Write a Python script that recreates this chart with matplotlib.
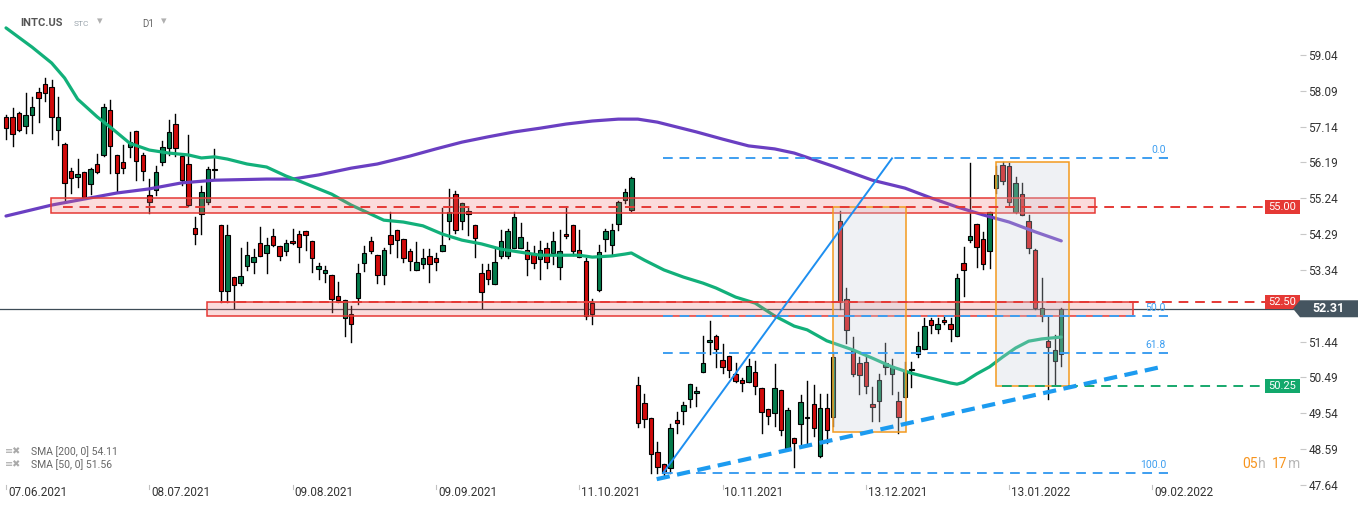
import numpy as np
import matplotlib.pyplot as plt
from matplotlib.patches import Rectangle, Polygon

plt.rcParams['font.family'] = ['Roboto', 'DejaVu Sans']

# Velas diarias INTC.US (07.06.2021 - 26.01.2022)
open_ = [57.40, 57.40, 57.50, 57.15, 57.44, 58.05, 58.26, 58.18, 57.04, 56.67,
         55.96, 55.80, 55.93, 55.61, 56.14, 56.39, 57.57, 56.38, 56.19, 56.59,
         57.02, 56.40, 55.33, 55.46, 56.19, 56.58, 57.20, 56.35, 56.14, 54.44,
         54.82, 55.13, 56.03, 54.52, 52.77, 53.14, 53.00, 53.45, 53.54, 54.05,
         53.78, 54.23, 53.97, 53.83, 54.11, 54.28, 54.36, 54.11, 53.36, 53.25,
         53.20, 52.64, 52.06, 52.16, 52.59, 53.52, 54.11, 53.73, 53.20, 54.26,
         54.39, 54.15, 53.84, 53.33, 53.49, 53.70, 53.65, 53.83, 54.64, 55.35,
         54.63, 54.89, 54.52, 53.25, 53.33, 52.96, 53.70, 53.72, 53.91, 53.91,
         53.86, 53.78, 53.62, 53.91, 53.78, 53.41, 54.28, 54.52, 53.86, 53.59,
         52.45, 52.80, 54.17, 53.99, 54.55, 55.19, 54.92, 50.28, 49.82, 49.40,
         48.50, 48.18, 48.08, 49.35, 49.59, 49.91, 50.07, 50.62, 51.42, 51.60,
         50.94, 51.05, 50.57, 50.41, 50.36, 50.62, 50.20, 49.64, 49.54, 50.15,
         48.61, 48.87, 49.25, 49.45, 49.78, 48.40, 49.67, 49.43, 54.65, 52.58,
         51.20, 50.86, 50.89, 49.79, 49.85, 50.76, 50.57, 49.86, 49.96, 50.68,
         51.10, 51.23, 52.00, 51.76, 52.00, 51.90, 51.60, 53.53, 54.13, 54.55,
         54.15, 53.83, 55.50, 56.11, 56.09, 54.87, 55.35, 54.64, 53.88, 52.12,
         51.46, 50.92, 51.10]
high = [57.45, 57.63, 57.52, 58.03, 57.93, 58.17, 58.43, 58.38, 57.93, 56.71,
        56.04, 56.28, 55.95, 56.04, 56.41, 57.74, 57.85, 56.39, 56.65, 57.00,
        57.03, 56.45, 55.75, 56.10, 56.76, 57.32, 57.48, 56.36, 56.92, 54.75,
        55.56, 56.07, 56.55, 54.53, 54.53, 53.15, 53.92, 54.08, 53.89, 54.48,
        54.18, 54.42, 53.98, 54.13, 54.42, 54.37, 54.37, 54.12, 53.53, 53.44,
        53.21, 53.01, 52.54, 52.38, 53.51, 53.97, 54.22, 53.73, 53.91, 54.87,
        54.40, 54.16, 53.89, 54.08, 53.89, 53.89, 53.78, 54.97, 55.48, 55.43,
        55.11, 54.97, 54.53, 53.49, 53.49, 53.89, 54.40, 54.42, 54.87, 54.58,
        54.07, 53.97, 54.11, 54.05, 54.35, 54.40, 55.00, 54.53, 54.39, 53.65,
        52.56, 53.99, 54.42, 54.55, 55.16, 55.48, 55.80, 50.49, 50.04, 49.41,
        48.77, 48.19, 49.24, 49.56, 49.83, 50.31, 50.23, 51.59, 51.98, 51.61,
        51.37, 51.06, 50.86, 50.46, 50.99, 50.92, 50.21, 49.65, 50.84, 50.15,
        49.67, 48.88, 50.02, 50.39, 50.29, 50.04, 50.04, 51.17, 54.91, 52.85,
        51.55, 51.04, 51.02, 50.24, 50.57, 51.39, 50.98, 50.09, 50.90, 50.90,
        51.70, 52.06, 52.07, 52.06, 52.11, 52.06, 53.22, 53.94, 56.18, 54.56,
        54.35, 54.87, 56.09, 56.20, 56.17, 55.80, 55.64, 54.79, 53.89, 53.13,
        52.10, 51.61, 52.33]
low = [56.81, 56.63, 57.03, 56.97, 56.98, 57.27, 57.83, 56.81, 56.66, 55.15,
       55.39, 55.55, 55.25, 55.35, 55.92, 56.36, 55.92, 55.41, 55.92, 56.33,
       55.73, 55.73, 54.86, 55.33, 56.13, 56.40, 56.37, 55.59, 55.04, 54.02,
       54.28, 55.08, 55.77, 52.50, 52.50, 52.33, 52.94, 53.33, 53.27, 53.70,
       53.27, 53.97, 53.60, 53.74, 54.04, 53.54, 53.86, 53.28, 53.09, 53.03,
       52.23, 52.50, 51.60, 51.44, 52.43, 53.31, 53.78, 52.98, 52.97, 53.78,
       53.69, 53.56, 53.35, 53.33, 53.40, 53.03, 53.33, 53.83, 54.17, 54.31,
       54.42, 54.27, 53.69, 52.34, 52.96, 52.96, 53.65, 53.65, 53.91, 53.91,
       53.20, 53.38, 53.09, 53.38, 53.49, 53.09, 54.20, 53.73, 53.67, 52.04,
       51.90, 52.77, 53.83, 53.73, 54.39, 55.11, 54.89, 49.17, 49.18, 47.95,
       47.95, 47.90, 47.95, 49.01, 49.24, 49.71, 49.74, 50.62, 51.10, 50.77,
       50.60, 50.49, 50.37, 50.12, 50.36, 50.04, 49.01, 49.24, 49.20, 48.95,
       48.58, 48.12, 48.70, 48.70, 48.93, 48.37, 48.76, 49.20, 52.30, 51.39,
       50.53, 50.05, 50.07, 49.32, 49.32, 50.58, 50.04, 49.01, 49.96, 50.23,
       51.02, 51.23, 51.67, 51.66, 51.90, 51.46, 51.60, 52.65, 54.07, 53.42,
       53.36, 53.38, 55.37, 55.62, 55.05, 54.84, 54.79, 53.78, 52.30, 51.99,
       49.91, 50.28, 50.78]
close = [57.10, 56.94, 57.05, 57.44, 57.65, 57.89, 58.02, 57.39, 57.39, 55.64,
         55.77, 55.88, 55.28, 56.01, 55.93, 57.65, 56.63, 55.90, 56.05, 56.74,
         56.22, 55.96, 55.15, 55.93, 56.61, 56.99, 56.57, 55.72, 55.07, 54.28,
         55.42, 56.03, 55.98, 52.77, 54.27, 52.93, 53.17, 53.73, 53.69, 53.71,
         54.00, 54.00, 53.72, 54.05, 54.05, 53.94, 54.26, 53.65, 53.44, 53.34,
         52.56, 52.54, 52.53, 51.90, 53.25, 53.78, 53.83, 53.20, 53.87, 54.02,
         54.13, 53.65, 53.59, 53.54, 53.65, 53.51, 53.54, 53.99, 54.88, 54.41,
         55.11, 54.82, 54.19, 52.76, 53.09, 53.54, 54.10, 54.36, 54.74, 54.21,
         53.62, 53.52, 53.86, 53.54, 54.10, 53.83, 54.23, 53.83, 53.67, 52.12,
         52.16, 53.81, 54.36, 54.39, 55.13, 55.40, 55.79, 49.27, 49.38, 48.45,
         48.10, 47.95, 49.14, 49.27, 49.75, 50.31, 50.13, 50.86, 51.47, 51.23,
         50.76, 50.68, 50.39, 50.33, 50.78, 50.25, 49.56, 49.46, 50.20, 49.09,
         49.62, 48.74, 49.84, 49.40, 49.14, 49.69, 49.09, 51.02, 52.50, 51.74,
         50.58, 50.54, 50.25, 49.70, 50.41, 50.86, 50.78, 49.45, 50.65, 50.72,
         51.31, 51.84, 51.87, 51.90, 51.95, 51.76, 53.12, 53.33, 54.23, 53.94,
         53.49, 54.87, 55.85, 55.69, 55.13, 55.64, 54.81, 53.91, 52.32, 52.34,
         51.30, 51.21, 52.31]

sma50_idx = [0, 4, 7, 9, 11, 14, 16, 19, 22, 25, 28, 30, 32, 34, 37, 40, 43, 45,
             48, 50, 53, 55, 58, 61, 64, 67, 70, 73, 76, 79, 82, 85, 88, 90, 93,
             95, 96, 98, 101, 104, 107, 109, 112, 115, 118, 121, 123, 126, 130,
             133, 136, 139, 142, 145, 146, 147, 149, 151, 153, 155, 157, 159, 162]
sma50_val = [59.76, 59.25, 58.83, 58.43, 57.87, 57.40, 57.13, 56.70, 56.52, 56.44,
             56.39, 56.31, 56.34, 56.28, 56.15, 56.07, 55.83, 55.70, 55.49, 55.35,
             55.06, 54.90, 54.66, 54.61, 54.51, 54.29, 54.13, 54.03, 53.89, 53.81,
             53.73, 53.73, 53.73, 53.68, 53.71, 53.76, 53.79, 53.60, 53.34, 53.15,
             52.99, 52.86, 52.62, 52.46, 52.12, 51.85, 51.75, 51.46, 51.22, 51.00,
             50.77, 50.60, 50.47, 50.34, 50.31, 50.36, 50.58, 50.77, 51.03, 51.27,
             51.45, 51.51, 51.56]
sma200_idx = [0, 7, 12, 17, 22, 27, 32, 40, 44, 48, 53, 57, 62, 66, 70, 74, 78,
              82, 86, 90, 94, 97, 100, 103, 106, 110, 114, 118, 121, 127, 133,
              138, 142, 146, 150, 154, 158, 162]
sma200_val = [54.77, 55.06, 55.22, 55.38, 55.49, 55.65, 55.72, 55.75, 55.75, 55.86,
              56.04, 56.15, 56.36, 56.55, 56.73, 56.87, 57.00, 57.10, 57.21, 57.29,
              57.34, 57.34, 57.26, 57.13, 57.00, 56.81, 56.63, 56.55, 56.44, 56.09,
              55.72, 55.51, 55.25, 55.01, 54.80, 54.61, 54.35, 54.11]

date_idx = [0, 22, 44, 66, 88, 110, 132, 154, 176]
date_labels = ['07.06.2021', '08.07.2021', '09.08.2021', '09.09.2021', '11.10.2021',
               '10.11.2021', '13.12.2021', '13.01.2022', '09.02.2022']
price_ticks = [59.04, 58.09, 57.14, 56.19, 55.24, 54.29, 53.34, 51.44, 50.49,
               49.54, 48.59, 47.64]

# Niveles y zonas dibujadas
fib_high, fib_low = 56.30, 47.95
fib_levels = [0.0, 50.0, 61.8, 100.0]
zone_55 = (54.85, 55.25)
zone_525 = (52.12, 52.49)
boxes = [(127.0, 138.2, 49.04, 55.01), (152.0, 163.2, 50.26, 56.20)]
last_price = 52.31

W, H = 1368, 509
STEP = 6.514


def px(x):
    # posicion horizontal en pixeles -> indice de vela
    return (x - 6) / STEP


fig = plt.figure(figsize=(W / 100, H / 100), dpi=100)
ax = fig.add_axes([0, 24 / H, 1300 / W, 485 / H])
ymin, ymax = 47.635, 60.50
ax.set_xlim(px(0), px(1300))
ax.set_ylim(ymin, ymax)
for s in ax.spines.values():
    s.set_visible(False)
ppx = (ymax - ymin) / 485  # precio por pixel

# linea del precio actual
ax.plot([px(0), px(1293)], [last_price, last_price], color='#3d4c57', lw=0.9, zorder=1)

# velas
for i in range(len(close)):
    o, h, l, c = open_[i], high[i], low[i], close[i]
    col = '#037a4b' if c >= o else '#d10a0a'
    ax.plot([i, i], [l, h], color='black', lw=1.0, zorder=2)
    ax.add_patch(Rectangle((i - 0.34, min(o, c)), 0.68, max(abs(c - o), 0.03),
                           fc=col, ec='black', lw=0.8, zorder=2.5))

# medias
ax.plot(sma200_idx, sma200_val, color='#6a3fc2', lw=2.3, zorder=3, solid_capstyle='round')
ax.plot(sma50_idx, sma50_val, color='#12b07a', lw=2.3, zorder=3, solid_capstyle='round')

# zonas rojas
ax.add_patch(Rectangle((px(51), zone_55[0]), px(1095) - px(51), zone_55[1] - zone_55[0],
                       fc=(0.94, 0.45, 0.45, 0.25), ec='#e53935', lw=1.1, zorder=4))
ax.add_patch(Rectangle((px(207), zone_525[0]), px(1133) - px(207), zone_525[1] - zone_525[0],
                       fc=(0.94, 0.45, 0.45, 0.25), ec='#e53935', lw=1.1, zorder=4))

# cajas grises
for x0, x1, y0, y1 in boxes:
    ax.add_patch(Rectangle((x0, y0), x1 - x0, y1 - y0, fc=(0.80, 0.82, 0.86, 0.30),
                           ec='#f39a1e', lw=1.1, zorder=4))

# niveles horizontales
ax.plot([px(63), px(1265)], [55.00, 55.00], color='#e53935', lw=1.4,
        ls=(0, (5, 3.5)), zorder=4.5, clip_on=False)
ax.plot([px(220), px(1265)], [52.50, 52.50], color='#e53935', lw=1.4,
        ls=(0, (5, 3.5)), zorder=4.5, clip_on=False)
ax.plot([px(1002), px(1265)], [50.25, 50.25], color='#17a86c', lw=1.4,
        ls=(0, (5, 3.5)), zorder=4.5, clip_on=False)

# fibonacci
for lv in fib_levels:
    p = fib_high - lv / 100 * (fib_high - fib_low)
    ax.plot([px(663), px(1168)], [p, p], color='#3d9ef0', lw=1.4,
            ls=(0, (5, 3.5)), zorder=4.5)
    ax.text(px(1166), p + 3 * ppx, f'{lv:.1f}', ha='right', va='bottom',
            color='#3d9ef0', fontsize=7.5, zorder=6)

# lineas de tendencia
ax.plot([px(663), px(892)], [fib_low, fib_high], color='#1e8ff0', lw=1.4, zorder=5)
ax.plot([px(656.7), px(1160)], [47.79, 50.76], color='#1c9bf0', lw=3.0,
        ls=(0, (3.2, 1.8)), zorder=5)

# etiquetas de precio
def price_box(val, color, text):
    ax.add_patch(Rectangle((px(1265), val - 7 * ppx), px(1300) - px(1265), 14 * ppx,
                           fc=color, ec='none', zorder=7, clip_on=False))
    ax.text(px(1282.5), val, text, ha='center', va='center', color='white',
            fontsize=8, zorder=8, clip_on=False)

price_box(55.00, '#e53935', '55.00')
price_box(52.50, '#e53935', '52.50')
price_box(50.25, '#12a86c', '50.25')

poly = Polygon([(px(1293), last_price), (px(1300), last_price + 8.5 * ppx),
                (px(1358), last_price + 8.5 * ppx), (px(1358), last_price - 8.5 * ppx),
                (px(1300), last_price - 8.5 * ppx)],
               closed=True, fc='#455560', ec='none', zorder=7, clip_on=False)
ax.add_patch(poly)
ax.text(px(1328), last_price, f'{last_price:.2f}', ha='center', va='center',
        color='white', fontsize=9, fontweight='bold', zorder=8, clip_on=False)

# ejes
ax.yaxis.tick_right()
ax.set_yticks(price_ticks)
ax.set_yticklabels([f'{v:.2f}' for v in price_ticks])
ax.tick_params(axis='y', length=4, color='#c8c8c8', pad=2, labelsize=8.5,
               labelcolor='#333333')
ax.set_xticks([])
xt = ax.get_xaxis_transform()
for d, lab in zip(date_idx, date_labels):
    ax.plot([d, d], [0, -4 / 485], color='#c0c0c0', lw=0.8, transform=xt, clip_on=False)
    ax.text(d + 0.3, -8 / 485, lab, transform=xt, ha='left', va='center',
            fontsize=8.5, color='#333333', clip_on=False)

# cabecera
fig.text(20 / W, 1 - 23 / H, 'INTC.US', fontsize=8, fontweight='bold', color='#555555',
         va='center', ha='left')
fig.text(74 / W, 1 - 24 / H, 'STC', fontsize=6, color='#9aa4ac', va='center', ha='left')
fig.text(97 / W, 1 - 21 / H, '▾', fontsize=8, color='#b0b0b0', va='center', ha='left')
fig.text(142 / W, 1 - 24 / H, 'D1', fontsize=7, color='#666666', va='center', ha='left')
fig.text(161 / W, 1 - 21 / H, '▾', fontsize=8, color='#b0b0b0', va='center', ha='left')

# leyenda SMA
fig.text(5 / W, 1 - 451 / H, '≡✖', fontsize=7, color='#aaaaaa', va='center', ha='left')
fig.text(31 / W, 1 - 452 / H, 'SMA [200, 0] 54.11', fontsize=7.5, color='#666666',
         va='center', ha='left')
fig.text(5 / W, 1 - 464 / H, '≡✖', fontsize=7, color='#aaaaaa', va='center', ha='left')
fig.text(31 / W, 1 - 465 / H, 'SMA [50, 0] 51.56', fontsize=7.5, color='#666666',
         va='center', ha='left')

# temporizador
for x, t, c in [(1242, '05', '#f7941d'), (1258, 'h', '#b8b8b8'),
                (1272, '17', '#f7941d'), (1288, 'm', '#b8b8b8')]:
    fig.text(x / W, 1 - 464 / H, t, fontsize=10, color=c, va='center', ha='left')

fig.savefig('out.png', dpi=100)
